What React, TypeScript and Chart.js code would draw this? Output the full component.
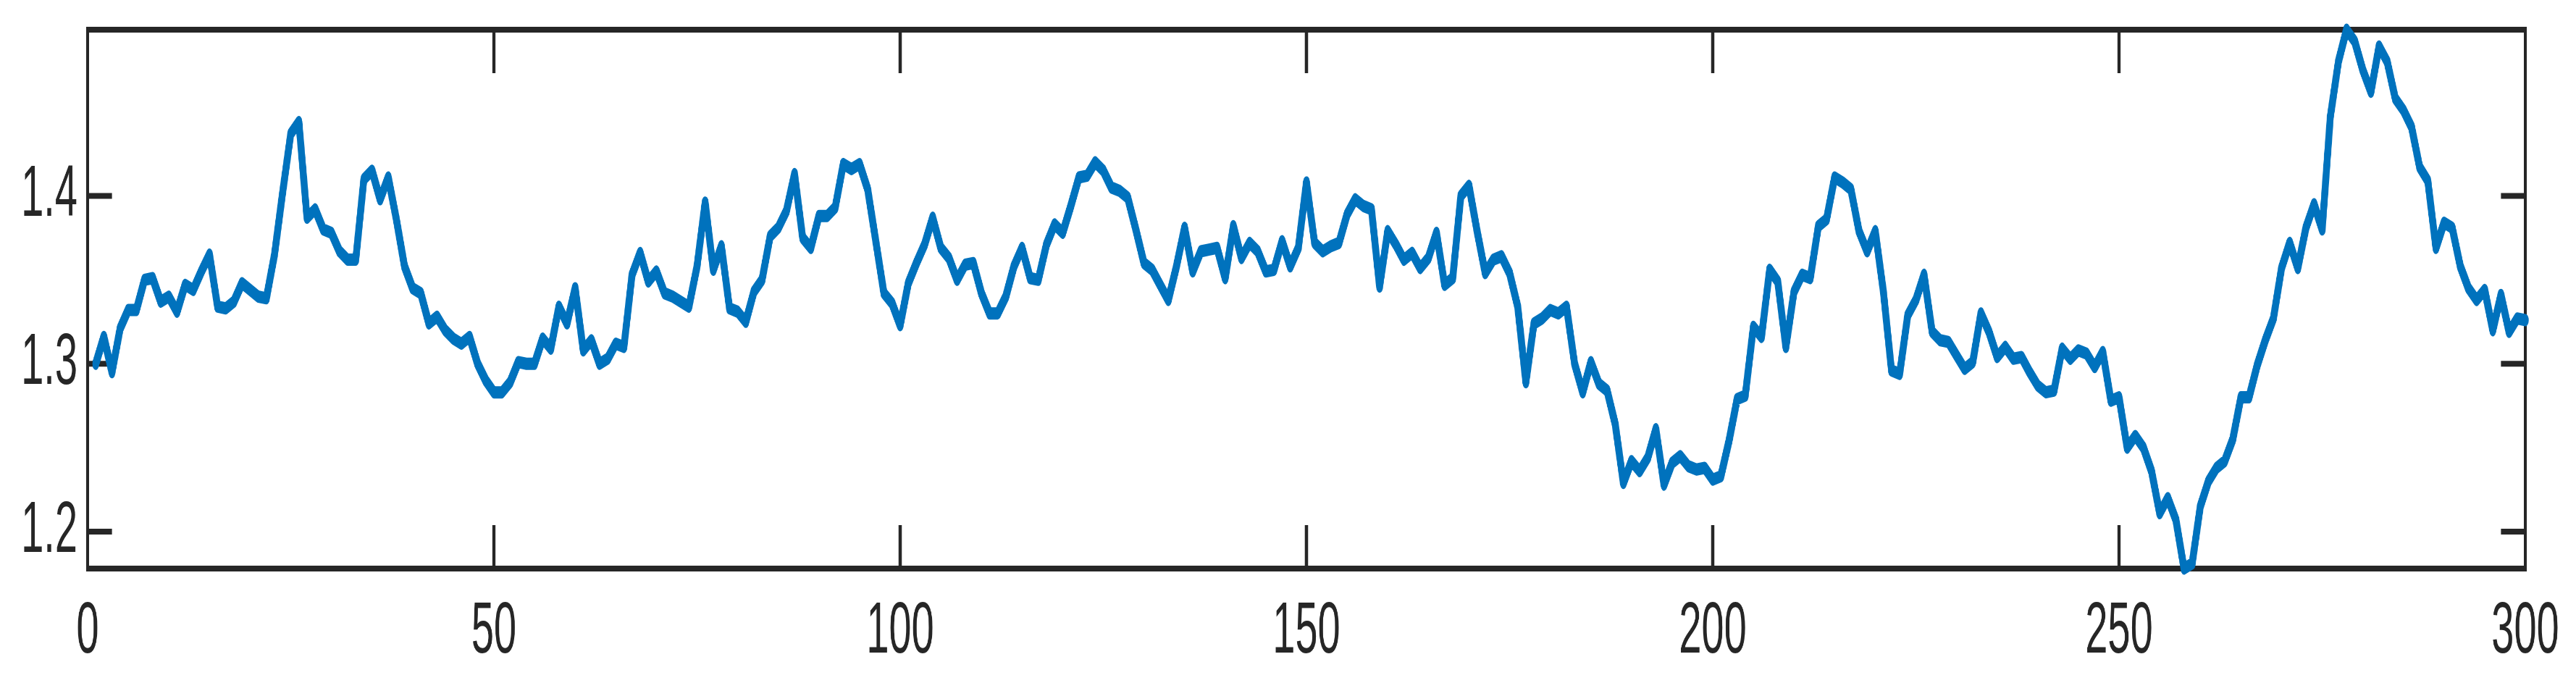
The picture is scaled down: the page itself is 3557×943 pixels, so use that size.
import React, { useEffect, useRef } from 'react';
import { Chart, registerables } from 'chart.js';

Chart.register(...registerables);

// ---- data (sample index starts at 1, one value per sample) ----
const firstSample = 1;

const samples001to050 = [
  1.300, 1.316, 1.295, 1.321, 1.332, 1.332, 1.350, 1.351, 1.337, 1.340,
  1.331, 1.347, 1.344, 1.355, 1.365, 1.334, 1.333, 1.337, 1.348, 1.344,
  1.340, 1.339, 1.365, 1.402, 1.437, 1.444, 1.387, 1.392, 1.380, 1.378,
  1.367, 1.362, 1.362, 1.410, 1.415, 1.398, 1.411, 1.386, 1.358, 1.345,
  1.342, 1.324, 1.328, 1.320, 1.315, 1.312, 1.316, 1.300, 1.290, 1.283,
];
const samples051to100 = [
  1.283, 1.289, 1.301, 1.300, 1.300, 1.315, 1.309, 1.334, 1.324, 1.345,
  1.308, 1.314, 1.300, 1.303, 1.312, 1.310, 1.353, 1.366, 1.349, 1.355,
  1.342, 1.340, 1.337, 1.334, 1.358, 1.396, 1.356, 1.370, 1.333, 1.331,
  1.325, 1.343, 1.350, 1.376, 1.381, 1.391, 1.413, 1.375, 1.369, 1.388,
  1.388, 1.393, 1.419, 1.416, 1.419, 1.404, 1.373, 1.342, 1.336, 1.323,
];
const samples101to150 = [
  1.348, 1.360, 1.371, 1.387, 1.369, 1.363, 1.350, 1.359, 1.360, 1.342,
  1.330, 1.330, 1.340, 1.358, 1.369, 1.351, 1.350, 1.371, 1.383, 1.378,
  1.394, 1.411, 1.412, 1.420, 1.415, 1.405, 1.403, 1.399, 1.380, 1.360,
  1.356, 1.347, 1.338, 1.358, 1.381, 1.355, 1.367, 1.368, 1.369, 1.351,
  1.382, 1.363, 1.372, 1.367, 1.355, 1.356, 1.373, 1.358, 1.369, 1.408,
];
const samples151to200 = [
  1.372, 1.367, 1.370, 1.372, 1.389, 1.398, 1.394, 1.392, 1.346, 1.379,
  1.371, 1.362, 1.366, 1.357, 1.363, 1.378, 1.347, 1.351, 1.400, 1.406,
  1.379, 1.354, 1.362, 1.364, 1.354, 1.334, 1.289, 1.324, 1.327, 1.332,
  1.330, 1.334, 1.300, 1.283, 1.301, 1.288, 1.284, 1.264, 1.229, 1.242,
  1.236, 1.244, 1.261, 1.228, 1.241, 1.245, 1.239, 1.237, 1.238, 1.231,
];
const samples201to250 = [
  1.233, 1.254, 1.279, 1.281, 1.322, 1.316, 1.356, 1.349, 1.310, 1.343,
  1.353, 1.351, 1.382, 1.386, 1.411, 1.408, 1.404, 1.379, 1.367, 1.379,
  1.343, 1.296, 1.294, 1.329, 1.338, 1.353, 1.319, 1.314, 1.313, 1.305,
  1.297, 1.301, 1.330, 1.319, 1.304, 1.310, 1.303, 1.304, 1.295, 1.287,
  1.283, 1.284, 1.309, 1.303, 1.308, 1.306, 1.298, 1.307, 1.278, 1.280,
];
const samples251to300 = [
  1.250, 1.257, 1.250, 1.236, 1.211, 1.220, 1.207, 1.178, 1.181, 1.215,
  1.230, 1.238, 1.242, 1.255, 1.280, 1.280, 1.299, 1.314, 1.327, 1.357,
  1.372, 1.357, 1.381, 1.395, 1.380, 1.447, 1.480, 1.499, 1.492, 1.475,
  1.462, 1.489, 1.480, 1.458, 1.451, 1.441, 1.417, 1.409, 1.369, 1.384,
  1.381, 1.358, 1.345, 1.338, 1.344, 1.320, 1.341, 1.319, 1.327, 1.326,
];

const xTickValues = [0, 50, 100, 150, 200, 250, 300];
const yTickValues = [1.2, 1.3, 1.4];
const xMin = 0;
const xMax = 300;
const yMin = 1.178;
const yMax = 1.499;

// ---- style ----
const LINE_COLOR = '#0072BD';
const AXIS_COLOR = '#262626';
const CSS_W = 3557;
const CSS_H = 943;
const H_SCALE = 0.56; // reference is horizontally compressed
const CANVAS_W = Math.round(CSS_W / H_SCALE);
const CANVAS_H = CSS_H;
const AXIS_LW = 8;
const TICK_LEN = 60;
const FONT = { family: "'Liberation Sans', Arial, Helvetica, sans-serif", size: 100 };

const boxPlugin = {
  id: 'matlabBox',
  beforeDatasetsDraw(chart: any) {
    const { ctx, chartArea, scales } = chart;
    const { left, right, top, bottom } = chartArea;
    const xs = scales.x;
    const ys = scales.y;
    ctx.save();
    ctx.strokeStyle = AXIS_COLOR;
    ctx.lineWidth = AXIS_LW;
    ctx.lineCap = 'butt';
    ctx.beginPath();
    for (const v of xTickValues) {
      const px = xs.getPixelForValue(v);
      ctx.moveTo(px, bottom);
      ctx.lineTo(px, bottom - TICK_LEN);
      ctx.moveTo(px, top);
      ctx.lineTo(px, top + TICK_LEN);
    }
    for (const v of yTickValues) {
      const py = ys.getPixelForValue(v);
      ctx.moveTo(left, py);
      ctx.lineTo(left + TICK_LEN, py);
      ctx.moveTo(right, py);
      ctx.lineTo(right - TICK_LEN, py);
    }
    ctx.stroke();
    ctx.lineJoin = 'miter';
    ctx.strokeRect(left, top, right - left, bottom - top);
    ctx.restore();
  },
};

export default function App() {
  const canvasRef = useRef<HTMLCanvasElement | null>(null);

  useEffect(() => {
    document.body.style.margin = '0';
    document.body.style.overflow = 'hidden';
    document.body.style.background = '#ffffff';
    const canvas = canvasRef.current;
    if (!canvas) return;

    const values = [
      ...samples001to050,
      ...samples051to100,
      ...samples101to150,
      ...samples151to200,
      ...samples201to250,
      ...samples251to300,
    ];
    const points = values.map((v, i) => ({ x: firstSample + i, y: v }));

    const chart = new Chart(canvas, {
      type: 'line',
      data: {
        datasets: [
          {
            data: points,
            borderColor: LINE_COLOR,
            backgroundColor: LINE_COLOR,
            borderWidth: 17,
            pointRadius: 0,
            pointHoverRadius: 0,
            tension: 0,
            fill: false,
            clip: false as any,
            borderJoinStyle: 'round',
            borderCapStyle: 'round',
          },
        ],
      },
      options: {
        animation: false,
        responsive: false,
        devicePixelRatio: 1,
        events: [],
        layout: { padding: { top: 41, right: 125, left: 0, bottom: 0 } },
        plugins: {
          legend: { display: false },
          tooltip: { enabled: false },
          title: { display: false },
        },
        scales: {
          x: {
            type: 'linear',
            min: xMin,
            max: xMax,
            grid: { display: false, drawTicks: false },
            border: { display: false },
            afterBuildTicks: (scale: any) => {
              scale.ticks = xTickValues.map((v) => ({ value: v }));
            },
            afterFit: (scale: any) => {
              scale.height = 158;
              scale.paddingLeft = 0;
              scale.paddingRight = 0;
            },
            ticks: {
              autoSkip: false,
              maxRotation: 0,
              minRotation: 0,
              padding: 28,
              color: AXIS_COLOR,
              font: FONT,
              callback: (v: any) => String(v),
            },
          },
          y: {
            type: 'linear',
            min: yMin,
            max: yMax,
            grid: { display: false, drawTicks: false },
            border: { display: false },
            afterBuildTicks: (scale: any) => {
              scale.ticks = yTickValues.map((v) => ({ value: v }));
            },
            afterFit: (scale: any) => {
              scale.width = 216;
              scale.paddingTop = 0;
              scale.paddingBottom = 0;
            },
            ticks: {
              autoSkip: false,
              padding: 25,
              color: AXIS_COLOR,
              font: FONT,
              callback: (v: any) => Number(v).toFixed(1),
            },
          },
        },
      },
      plugins: [boxPlugin],
    } as any);

    return () => {
      chart.destroy();
    };
  }, []);

  return (
    <canvas
      ref={canvasRef}
      width={CANVAS_W}
      height={CANVAS_H}
      style={{ width: `${CSS_W}px`, height: `${CSS_H}px`, display: 'block' }}
    />
  );
}
